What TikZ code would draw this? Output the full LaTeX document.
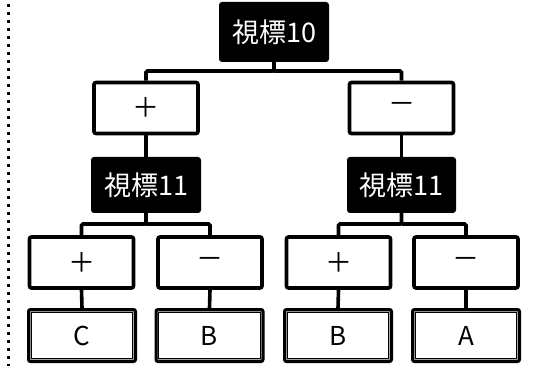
\documentclass[tikz,border=0pt]{standalone}
\usepackage{fontspec}
\setmainfont{Noto Sans CJK JP}
\begin{document}
\begin{tikzpicture}[x=1pt,y=-1pt,
  lw/.style={line width=3.6pt},
  blackbox/.style={fill=black, rounded corners=3pt, text=white, inner sep=0pt,
    minimum width=110pt, minimum height=56pt, font=\fontsize{27}{30}\selectfont},
  signbox/.style={draw, lw, rounded corners=2pt, fill=white, inner sep=0pt,
    minimum width=104pt, minimum height=51pt, font=\fontsize{27}{30}\selectfont},
  leafbox/.style={draw, line width=3pt, rounded corners=2pt, inner sep=0pt,
    minimum width=107pt, minimum height=52pt, font=\fontsize{26}{30}\selectfont,
    append after command={
      \pgfextra{\draw[gray!70, line width=1.2pt]
        ([shift={(3.2pt,-3.2pt)}]\tikzlastnode.north west) rectangle ([shift={(-3.2pt,3.2pt)}]\tikzlastnode.south east);
      \draw[black, line width=0.7pt]
        ([shift={(4.3pt,-4.3pt)}]\tikzlastnode.north west) rectangle ([shift={(-4.3pt,4.3pt)}]\tikzlastnode.south east);}}},
  conn/.style={lw, rounded corners=1.5pt}
]
\useasboundingbox (0,0) rectangle (533,366);
\draw[line width=3pt, dash pattern=on 3.3pt off 4.7pt] (8.5,4) -- (8.5,366);

\node[blackbox, minimum height=60pt] (T) at (274,32) {視標10};
\node[signbox] (P1) at (146,108) {＋};
\node[signbox] (M1) at (401.5,108) {－};
\node[blackbox] (L) at (146,185) {視標11};
\node[blackbox, minimum width=109pt] (R) at (401.5,185) {視標11};

\node[signbox] (P2) at (81.5,262.5) {＋};
\node[signbox] (M2) at (210,262.5) {－};
\node[signbox] (P3) at (338.5,262.5) {＋};
\node[signbox] (M3) at (466,262.5) {－};

\node[leafbox] (C1) at (82,335.5) {C};
\node[leafbox] (B1) at (209.5,335.5) {B};
\node[leafbox] (B2) at (338,335.5) {B};
\node[leafbox] (A1) at (466,335.5) {A};

\coordinate (j1) at (274,71);
\coordinate (jl) at (146,224);
\coordinate (jr) at (401.5,224);

\draw[conn] (T.south) -- (j1) -| (P1.north);
\draw[conn] (j1) -| (M1.north);
\draw[conn] (P1.south) -- (L.north);
\draw[conn] (M1.south) -- (R.north);
\draw[conn] (L.south) -- (jl) -| (P2.north);
\draw[conn] (jl) -| (M2.north);
\draw[conn] (R.south) -- (jr) -| (P3.north);
\draw[conn] (jr) -| (M3.north);
\draw[conn] (P2.south) -- (C1.north);
\draw[conn] (M2.south) -- (B1.north);
\draw[conn] (P3.south) -- (B2.north);
\draw[conn] (M3.south) -- (A1.north);
\end{tikzpicture}
\end{document}
